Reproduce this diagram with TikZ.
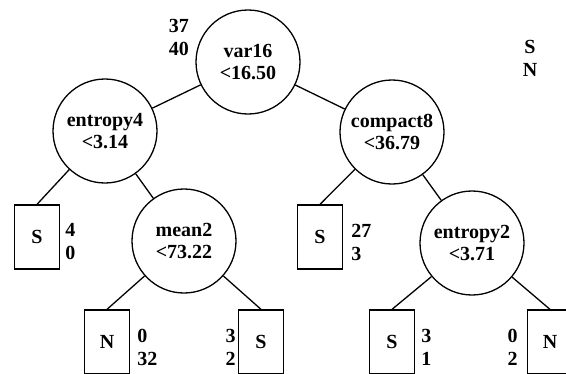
\documentclass[tikz,border=0pt]{standalone}
\usepackage{fontspec}
\setmainfont{Liberation Serif}
\begin{document}
\begin{tikzpicture}[x=1pt,y=-1pt,
  every node/.style={font=\bfseries\fontsize{20}{23}\selectfont, inner sep=0pt},
  test/.style={circle, draw, line width=1.3pt, minimum size=104pt, align=center},
  leaf/.style={rectangle, draw, line width=1.3pt, minimum width=45pt, minimum height=64pt},
  cnt/.style={align=left},
  cntr/.style={align=right},
  edge/.style={line width=1.3pt}]
\path[clip] (0,0) rectangle (566,373);
% test nodes
\node[test] (root) at (248,62) {var16\\[-1pt]<16.50};
\node[test] (e4) at (105,131) {entropy4\\[-1pt]<3.14};
\node[test] (c8) at (392,132) {compact8\\[-1pt]<36.79};
\node[test] (m2) at (184,241) {mean2\\[-1pt]<73.22};
\node[test] (e2) at (472,243) {entropy2\\[-1pt]<3.71};
% leaves
\node[leaf] (s1) at (37,237) {S};
\node[leaf] (s2) at (320,237) {S};
\node[leaf] (n1) at (107,342) {N};
\node[leaf] (s3) at (261,342) {S};
\node[leaf] (s4) at (392,342) {S};
\node[leaf] (n2) at (550,342) {N};
% counts
\node[cntr, anchor=east] (rc) at (189,37) {37\\40};
\node[cnt, anchor=west] (s1c) at ([xshift=5pt,yshift=-5pt]s1.east) {4\\0};
\node[cnt, anchor=west] (s2c) at ([xshift=8pt,yshift=-5pt]s2.east) {27\\3};
\node[cnt, anchor=west] (n1c) at ([xshift=7pt,yshift=-5pt]n1.east) {0\\32};
\node[cntr, anchor=east] (s3c) at ([xshift=-2pt,yshift=-5pt]s3.west) {3\\2};
\node[cnt, anchor=west] (s4c) at ([xshift=6pt,yshift=-5pt]s4.east) {3\\1};
\node[cntr, anchor=east] (n2c) at ([xshift=-9pt,yshift=-5pt]n2.west) {0\\2};
% legend
\node[align=center] (leg) at (530,58) {S\\N};
% edges
\draw[edge] (root) -- (e4);
\draw[edge] (root) -- (c8);
\draw[edge] (e4) -- (s1.north);
\draw[edge] (e4) -- (m2);
\draw[edge] (c8) -- (s2.north);
\draw[edge] (c8) -- (e2);
\draw[edge] (m2) -- (n1.north);
\draw[edge] (m2) -- (s3.north);
\draw[edge] (e2) -- (s4.north);
\draw[edge] (e2) -- (n2.north);
\end{tikzpicture}
\end{document}
